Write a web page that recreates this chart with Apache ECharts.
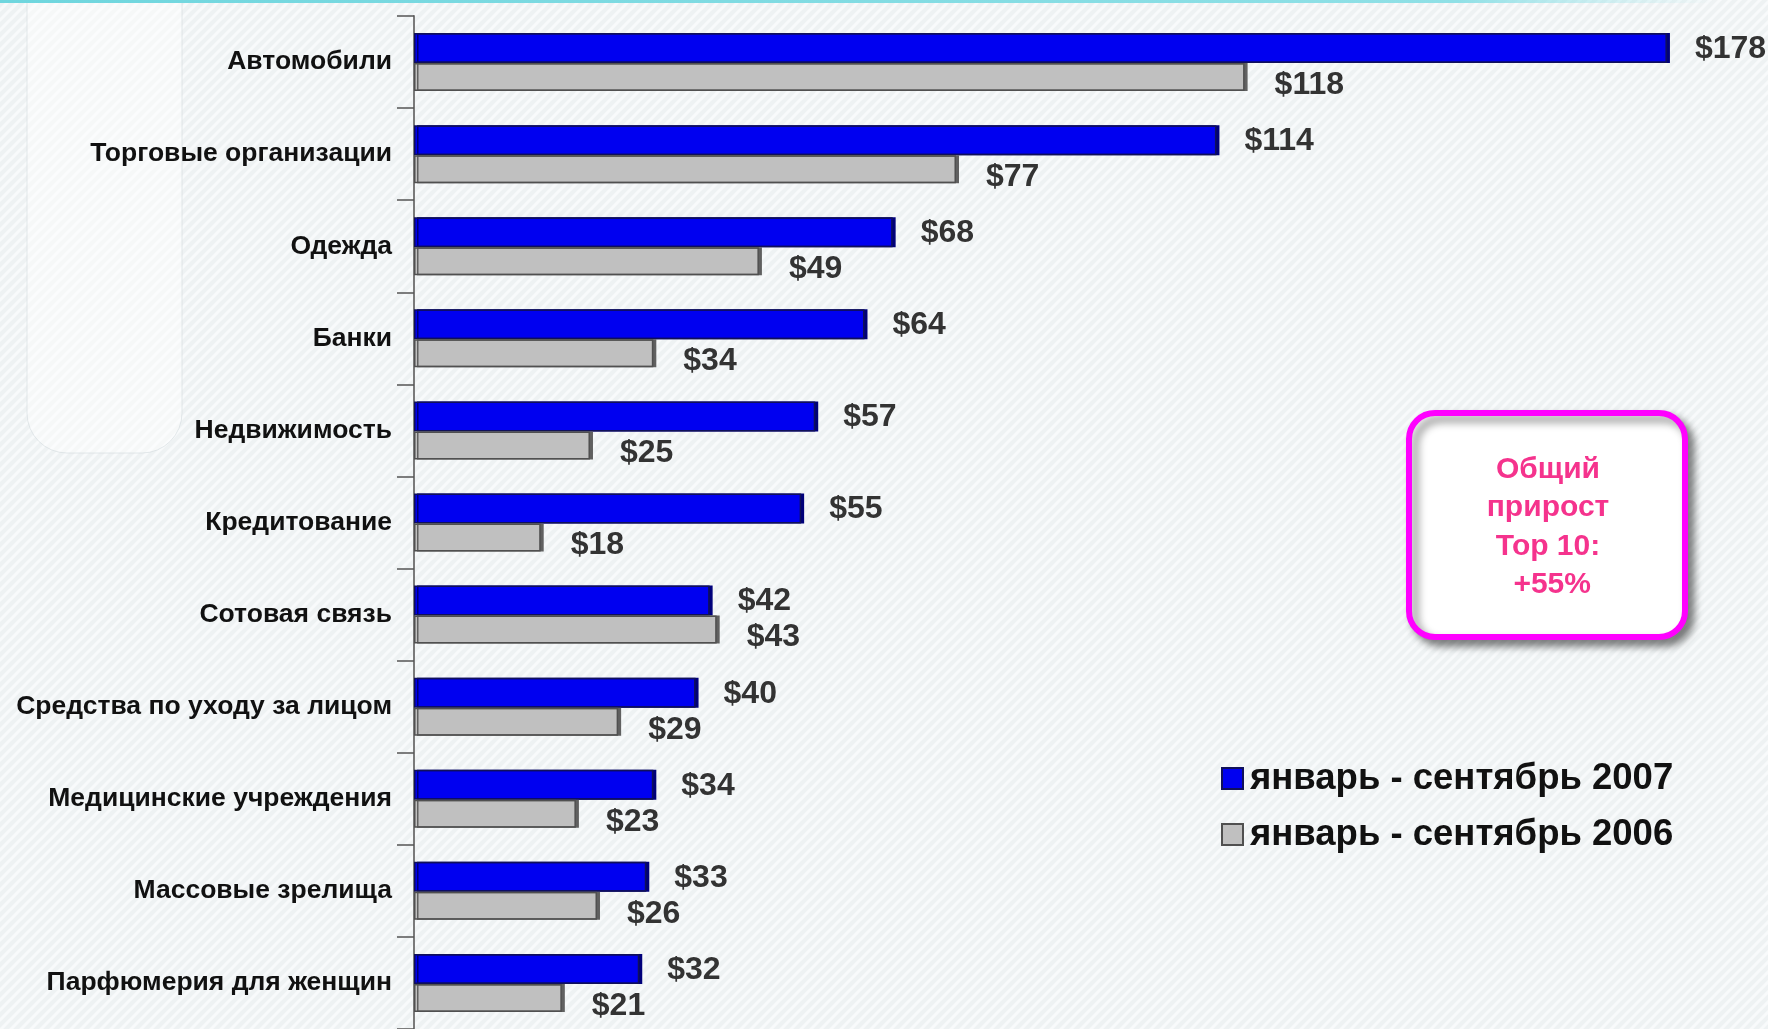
<!DOCTYPE html>
<html>
<head>
<meta charset="utf-8">
<script src="https://cdn.jsdelivr.net/npm/echarts@6/dist/echarts.min.js"></script>
<style>
html,body{margin:0;padding:0;}
#chart{width:1768px;height:1029px;}
</style>
</head>
<body>
<div id="chart"></div>
<script>
var categories = ['Автомобили','Торговые организации','Одежда','Банки','Недвижимость','Кредитование','Сотовая связь','Средства по уходу за лицом','Медицинские учреждения','Массовые зрелища','Парфюмерия для женщин'];
var values2007 = [178,114,68,64,57,55,42,40,34,33,32];
var values2006 = [118,77,49,34,25,18,43,29,23,26,21];
var seriesNames = ['январь - сентябрь 2007','январь - сентябрь 2006'];
var noteLines = ['Общий','прирост','Top 10:',' +55%'];

// background stripe pattern
var pc = document.createElement('canvas');
pc.width = 10; pc.height = 10;
var g = pc.getContext('2d');
g.fillStyle = '#eef2f3'; g.fillRect(0,0,10,10);
g.strokeStyle = '#f8fafb'; g.lineWidth = 3;
g.beginPath();
g.moveTo(-2,12); g.lineTo(12,-2);
g.moveTo(-7,7); g.lineTo(7,-7);
g.moveTo(3,17); g.lineTo(17,3);
g.stroke();

var chart = echarts.init(document.getElementById('chart'));
var font = 'Liberation Sans, Arial, sans-serif';
chart.setOption({
  backgroundColor: {image: pc, repeat: 'repeat'},
  animation: false,
  grid: {left: 414, top: 16, height: 1025, width: 1267, containLabel: false},
  xAxis: {type: 'value', min: 0, max: 180, show: false, splitLine: {show: false}},
  yAxis: {
    type: 'category', data: categories, inverse: true,
    axisLine: {show: true, lineStyle: {color: '#7a7a7a', width: 2}},
    axisTick: {show: true, inside: false, alignWithLabel: false, length: 17, lineStyle: {color: '#555', width: 1.5}},
    axisLabel: {margin: 22, fontFamily: font, fontWeight: 'bold', fontSize: 26.5, color: '#111'}
  },
  legend: {
    orient: 'vertical', left: 1216, top: 755, itemGap: 19,
    itemWidth: 21, itemHeight: 21, icon: 'rect',
    textStyle: {fontFamily: font, fontWeight: 'bold', fontSize: 36.5, color: '#111', padding: [0,0,0,2]},
    data: seriesNames
  },
  series: [
    {
      name: seriesNames[0], type: 'bar', data: values2007, barWidth: 30, barGap: '0%',
      itemStyle: {color: '#0000f0', borderColor: '#10105a', borderWidth: 1.5,
        shadowColor: '#00007a', shadowOffsetX: 3, shadowBlur: 0},
      label: {show: true, position: 'right', distance: 28, offset: [0,1],
        formatter: function(p){return '$' + p.value;},
        fontFamily: font, fontWeight: 'bold', fontSize: 32, color: '#333'}
    },
    {
      name: seriesNames[1], type: 'bar', data: values2006, barWidth: 28,
      itemStyle: {color: '#c0c0c0', borderColor: '#505050', borderWidth: 1.5,
        shadowColor: '#606060', shadowOffsetX: 3, shadowBlur: 0},
      label: {show: true, position: 'right', distance: 30, offset: [0,8],
        formatter: function(p){return '$' + p.value;},
        fontFamily: font, fontWeight: 'bold', fontSize: 32, color: '#333'}
    }
  ],
  graphic: [
    {type: 'rect', z: -1, shape: {x: 27, y: -40, width: 155, height: 493, r: 40},
      style: {fill: 'rgba(255,255,255,0.45)', stroke: 'rgba(215,222,225,0.7)', lineWidth: 1}},
    {type: 'rect', shape: {x: 0, y: 0, width: 1714, height: 3},
      style: {fill: new echarts.graphic.LinearGradient(0,0,1,0,[{offset:0,color:'#6fd6de'},{offset:0.85,color:'#8fe0e6'},{offset:1,color:'rgba(160,230,235,0)'}])}},
    {type: 'rect', shape: {x: 1409, y: 413, width: 276, height: 224, r: 26},
      style: {fill: '#ffffff', stroke: '#ff00ff', lineWidth: 6,
        shadowColor: 'rgba(0,0,0,0.45)', shadowBlur: 8, shadowOffsetX: 6, shadowOffsetY: 6}},
    {type: 'text', x: 1548, y: 450, z: 10,
      style: {text: noteLines.join('\n'), align: 'center', verticalAlign: 'top',
        fontFamily: font, fontWeight: 'bold', fontSize: 30, lineHeight: 38.5, fill: '#f5338d'}}
  ]
});
</script>
</body>
</html>
